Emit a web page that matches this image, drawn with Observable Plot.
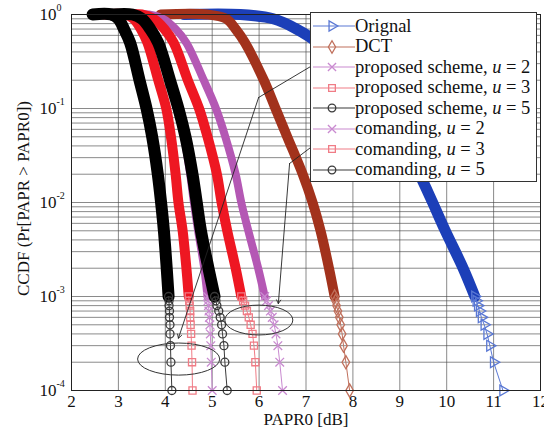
<!DOCTYPE html>
<html>
<head>
<meta charset="utf-8">
<script src="https://cdn.jsdelivr.net/npm/d3@7"></script>
<script src="https://cdn.jsdelivr.net/npm/@observablehq/plot@0.6"></script>
<style>
  body { margin: 0; background: #fff; }
  #wrap { position: relative; width: 544px; height: 432px; overflow: hidden; }
  .legend { position: absolute; left: 310px; top: 12px; width: 227px; height: 170px;
    border: 1px solid #333; background: #fff; font-family: "Liberation Serif", serif;
    font-size: 18.5px; color: #111; box-sizing: border-box; padding-top: 3px; }
  .legend .row { display: flex; align-items: center; height: 20.5px; white-space: nowrap; }
  .legend svg { flex: none; }
</style>
</head>
<body>
<div id="wrap"></div>
<script>
// ---- tick values ----
const xTickValues = [2, 3, 4, 5, 6, 7, 8, 9, 10, 11, 12];
const yDecades = [1e-4, 1e-3, 1e-2, 1e-1, 1];
const yExponents = ["-4", "-3", "-2", "-1", "0"];
const gridMultipliers = [1, 2, 3, 4, 5, 6, 7, 8, 9];

// ---- CCDF levels (shared by all curves) ----
const bandLevels = [1, 1, 0.9, 0.7, 0.5, 0.2, 0.1, 0.05, 0.02, 0.01, 0.005, 0.002, 0.001];
const tailLevels = [1e-3, 9e-4, 8e-4, 7e-4, 6e-4, 5e-4, 4e-4, 3e-4, 2e-4, 1e-4];

// ---- PAPR0 [dB] read at each level ----
const originalBand = [4.4, 5.6, 6.3, 6.8, 7.25, 8.05, 8.6, 9.0, 9.42, 9.7, 9.97, 10.35, 10.6];
const originalTail = [10.6, 10.63, 10.66, 10.7, 10.74, 10.8, 10.86, 10.92, 11.0, 11.2];
const dctBand = [3.9, 4.9, 5.3, 5.5, 5.7, 6.1, 6.35, 6.6, 6.93, 7.14, 7.31, 7.49, 7.61];
const dctTail = [7.61, 7.63, 7.65, 7.68, 7.71, 7.74, 7.77, 7.8, 7.85, 7.93];
const proposed2Band = [2.85, 3.3, 3.48, 3.66, 3.83, 4.08, 4.26, 4.4, 4.53, 4.61, 4.7, 4.83, 4.9];
const proposed2Tail = [4.9, 4.91, 4.92, 4.93, 4.94, 4.95, 4.96, 4.97, 4.98, 5.0];
const proposed3Band = [2.7, 3.15, 3.32, 3.48, 3.62, 3.85, 4.02, 4.12, 4.22, 4.28, 4.37, 4.45, 4.5];
const proposed3Tail = [4.5, 4.51, 4.52, 4.53, 4.53, 4.54, 4.55, 4.56, 4.57, 4.58];
const proposed5Band = [2.45, 2.85, 3.0, 3.12, 3.25, 3.45, 3.6, 3.72, 3.84, 3.91, 3.97, 4.03, 4.07];
const proposed5Tail = [4.07, 4.08, 4.08, 4.09, 4.09, 4.1, 4.1, 4.11, 4.12, 4.14];
const comanding2Band = [3.1, 3.65, 3.95, 4.22, 4.45, 4.82, 5.08, 5.28, 5.5, 5.62, 5.77, 5.98, 6.12];
const comanding2Tail = [6.12, 6.16, 6.2, 6.24, 6.28, 6.32, 6.36, 6.4, 6.44, 6.5];
const comanding3Band = [3.0, 3.5, 3.75, 3.98, 4.18, 4.48, 4.72, 4.9, 5.1, 5.2, 5.32, 5.5, 5.62];
const comanding3Tail = [5.62, 5.66, 5.7, 5.74, 5.78, 5.82, 5.86, 5.89, 5.92, 5.95];
const comanding5Band = [2.85, 3.3, 3.5, 3.68, 3.85, 4.1, 4.28, 4.43, 4.58, 4.67, 4.76, 4.92, 5.05];
const comanding5Tail = [5.05, 5.08, 5.1, 5.14, 5.17, 5.2, 5.22, 5.25, 5.27, 5.32];

const seriesNames = ["Orignal", "DCT", "proposed scheme, ", "proposed scheme, ", "proposed scheme, ",
                     "comanding, ", "comanding, ", "comanding, "];
const seriesU = [null, null, "2", "3", "5", "2", "3", "5"];

// ---- annotations (data units) ----
const arrow1Path = [[7.10, 0.28], [5.99, 0.131], [4.28, 3.6e-4]];
const arrow2Path = [[7.10, 0.0385], [6.65, 0.026], [6.41, 8.4e-4]];
const ellipse1 = {x0: 3.42, x1: 5.17, y0: 1.44e-4, y1: 3.16e-4};
const ellipse2 = {x0: 5.28, x1: 6.73, y0: 3.85e-4, y1: 8.0e-4};

// ---- styles ----
const styles = [
  {color: "#1c3fb8", tailColor: "#5a78d4", width: 11, symbol: "triangle", rotate: 90},
  {color: "#a2321c", tailColor: "#c0705c", width: 10, symbol: "diamond", rotate: 0},
  {color: "#b458b4", tailColor: "#c98ad0", width: 8, symbol: "times", rotate: 0},
  {color: "#ee1722", tailColor: "#f07c86", width: 10, symbol: "square", rotate: 0},
  {color: "#000000", tailColor: "#3a3a3a", width: 12, symbol: "circle", rotate: 0},
  {color: "#b458b4", tailColor: "#c98ad0", width: 8, symbol: "times", rotate: 0},
  {color: "#ee1722", tailColor: "#f07c86", width: 10, symbol: "square", rotate: 0},
  {color: "#000000", tailColor: "#3a3a3a", width: 12, symbol: "circle", rotate: 0}
];

const bands = [originalBand, dctBand, proposed2Band, proposed3Band, proposed5Band, comanding2Band, comanding3Band, comanding5Band];
const tails = [originalTail, dctTail, proposed2Tail, proposed3Tail, proposed5Tail, comanding2Tail, comanding3Tail, comanding5Tail];

const series = bands.map((b, i) => ({
  ...styles[i],
  bandPts: b.map((x, j) => ({x, y: bandLevels[j]})),
  tailPts: tails[i].map((x, j) => ({x, y: tailLevels[j]}))
}));

const yGrid = yDecades.slice(0, -1).flatMap(d => gridMultipliers.map(m => d * m)).concat([1]);

const marks = [
  Plot.ruleY(yGrid, {stroke: "#4a4a4a", strokeWidth: 0.65}),
  Plot.ruleX(xTickValues, {stroke: "#4a4a4a", strokeWidth: 0.65}),
];
for (const s of series) {
  marks.push(Plot.line(s.bandPts, {x: "x", y: "y", stroke: s.color, strokeWidth: s.width,
    curve: "catmull-rom", strokeLinecap: "round", strokeLinejoin: "round"}));
  marks.push(Plot.line(s.tailPts, {x: "x", y: "y", stroke: s.tailColor, strokeWidth: 1}));
  marks.push(Plot.dot(s.tailPts, {x: "x", y: "y", symbol: s.symbol, r: 4, stroke: s.tailColor,
    strokeWidth: 1.3, fill: "none", rotate: s.rotate}));
}
for (const path of [arrow1Path, arrow2Path]) {
  const pts = path.map(([x, y]) => ({x, y}));
  marks.push(Plot.line(pts.slice(0, 2), {x: "x", y: "y", stroke: "#222", strokeWidth: 0.9}));
  marks.push(Plot.arrow([{x1: pts[1].x, y1: pts[1].y, x2: pts[2].x, y2: pts[2].y}],
    {x1: "x1", y1: "y1", x2: "x2", y2: "y2", stroke: "#222", strokeWidth: 0.9, headLength: 7}));
}
marks.push(Plot.frame({stroke: "#222", strokeWidth: 1}));
marks.push(Plot.text(yDecades, {y: d => d, text: () => "10", frameAnchor: "left",
  textAnchor: "end", dx: -15, fontSize: 17}));
marks.push(Plot.text(yDecades, {y: d => d, text: (d, i) => yExponents[i], frameAnchor: "left",
  textAnchor: "start", dx: -15, dy: -7, fontSize: 10}));
marks.push(Plot.text(["PAPR0 [dB]"], {frameAnchor: "bottom", lineAnchor: "middle", dy: 29, fontSize: 17}));
marks.push(Plot.text(["CCDF (Pr[PAPR > PAPR0])"], {frameAnchor: "left", textAnchor: "middle",
  lineAnchor: "middle", rotate: -90, dx: -48, dy: -4, fontSize: 17}));

const chart = Plot.plot({
  width: 544, height: 432,
  marginLeft: 71, marginRight: 4, marginTop: 14, marginBottom: 42,
  style: {fontFamily: "Liberation Serif, serif", fontSize: "17px", color: "#111", background: "#fff", overflow: "visible"},
  x: {domain: [2, 12], ticks: xTickValues, tickFormat: d => String(d), tickSize: 0, tickPadding: 4, label: null},
  y: {type: "log", domain: [1e-4, 1], axis: null},
  marks
});

document.getElementById("wrap").appendChild(chart);

// ellipses drawn through the plot's own scales
const sx = chart.scale("x"), sy = chart.scale("y");
const svg = d3.select(chart);
for (const e of [ellipse1, ellipse2]) {
  const xa = sx.apply(e.x0), xb = sx.apply(e.x1), ya = sy.apply(e.y0), yb = sy.apply(e.y1);
  svg.append("ellipse")
    .attr("cx", (xa + xb) / 2).attr("cy", (ya + yb) / 2)
    .attr("rx", Math.abs(xb - xa) / 2).attr("ry", Math.abs(yb - ya) / 2)
    .attr("fill", "none").attr("stroke", "#333").attr("stroke-width", 1);
}

// legend overlay
const legend = d3.select("#wrap").append("div").attr("class", "legend");
const symMap = {triangle: d3.symbolTriangle, diamond: d3.symbolDiamond, times: d3.symbolTimes,
  square: d3.symbolSquare, circle: d3.symbolCircle};
series.forEach((s, i) => {
  const row = legend.append("div").attr("class", "row");
  const sv = row.append("svg").attr("width", 44).attr("height", 20);
  sv.append("line").attr("x1", 2).attr("x2", 44).attr("y1", 10).attr("y2", 10)
    .attr("stroke", s.tailColor).attr("stroke-width", 1.2);
  sv.append("path").attr("d", d3.symbol(symMap[s.symbol], 45)())
    .attr("transform", `translate(21,10) rotate(${s.rotate})`)
    .attr("fill", "none").attr("stroke", s.tailColor).attr("stroke-width", 1.3);
  const t = row.append("span");
  t.append("span").text(seriesNames[i]);
  if (seriesU[i]) {
    t.append("i").text("u");
    t.append("span").text(" = " + seriesU[i]);
  }
});
</script>
</body>
</html>
